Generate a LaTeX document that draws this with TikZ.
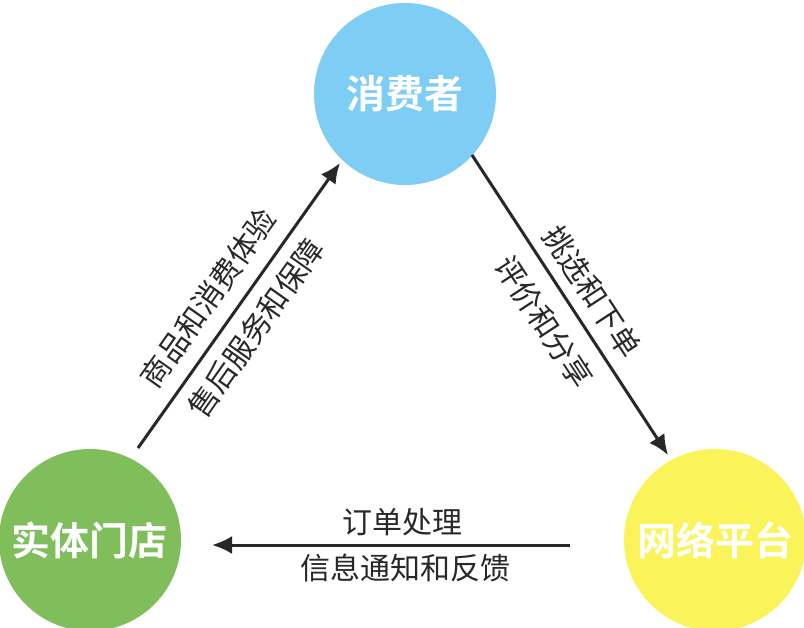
\documentclass[tikz,border=0pt]{standalone}
\usepackage{fontspec}
\newfontfamily\cjk{Noto Sans CJK SC}
\newfontfamily\cjkb{Noto Sans CJK SC Bold}
\usetikzlibrary{arrows.meta}
\definecolor{cblue}{RGB}{125,205,245}
\definecolor{cgreen}{RGB}{128,190,92}
\definecolor{cyellow}{RGB}{250,244,90}
\definecolor{ink}{RGB}{40,40,40}
\tikzset{
 party/.style={circle,minimum size=182pt,inner sep=0pt,text=white,font=\cjkb\fontsize{39}{42}\selectfont},
 flow/.style={draw=ink,line width=3pt,-{Latex[length=20pt,width=18pt]}},
 lbl/.style={text=ink,font=\cjk\fontsize{30}{34}\selectfont,inner sep=0pt}
}
\begin{document}
\begin{tikzpicture}[x=1pt,y=-1pt]
\useasboundingbox (0,0) rectangle (804,628);
\fill[white] (0,0) rectangle (804,628);
\begin{scope}
\clip (0,0) rectangle (804,628);
\node[party,fill=cblue] (c) at (405,94) {消费者};
\node[party,fill=cgreen] (s) at (90,540) {实体门店};
\node[party,fill=cyellow] (p) at (715,540) {网络平台};
\end{scope}
\coordinate (a1) at (138,448); \coordinate (a2) at (340,163);
\coordinate (b1) at (472,155); \coordinate (b2) at (668,455);
\coordinate (d1) at (570,545); \coordinate (d2) at (212,545);
\draw[flow] (a1) -- (a2);
\draw[flow] (b1) -- (b2);
\draw[flow] (d1) -- (d2);
\node[lbl,rotate=54.7] (l1) at (208,298) {商品和消费体验};
\node[lbl,rotate=54.7] (l2) at (256,328) {售后服务和保障};
\node[lbl,rotate=-56.8] (r1) at (592,292) {挑选和下单};
\node[lbl,rotate=-56.8] (r2) at (544,322) {评价和分享};
\node[lbl] (m1) at (402,522) {订单处理};
\node[lbl] (m2) at (405,568) {信息通知和反馈};
\end{tikzpicture}
\end{document}
